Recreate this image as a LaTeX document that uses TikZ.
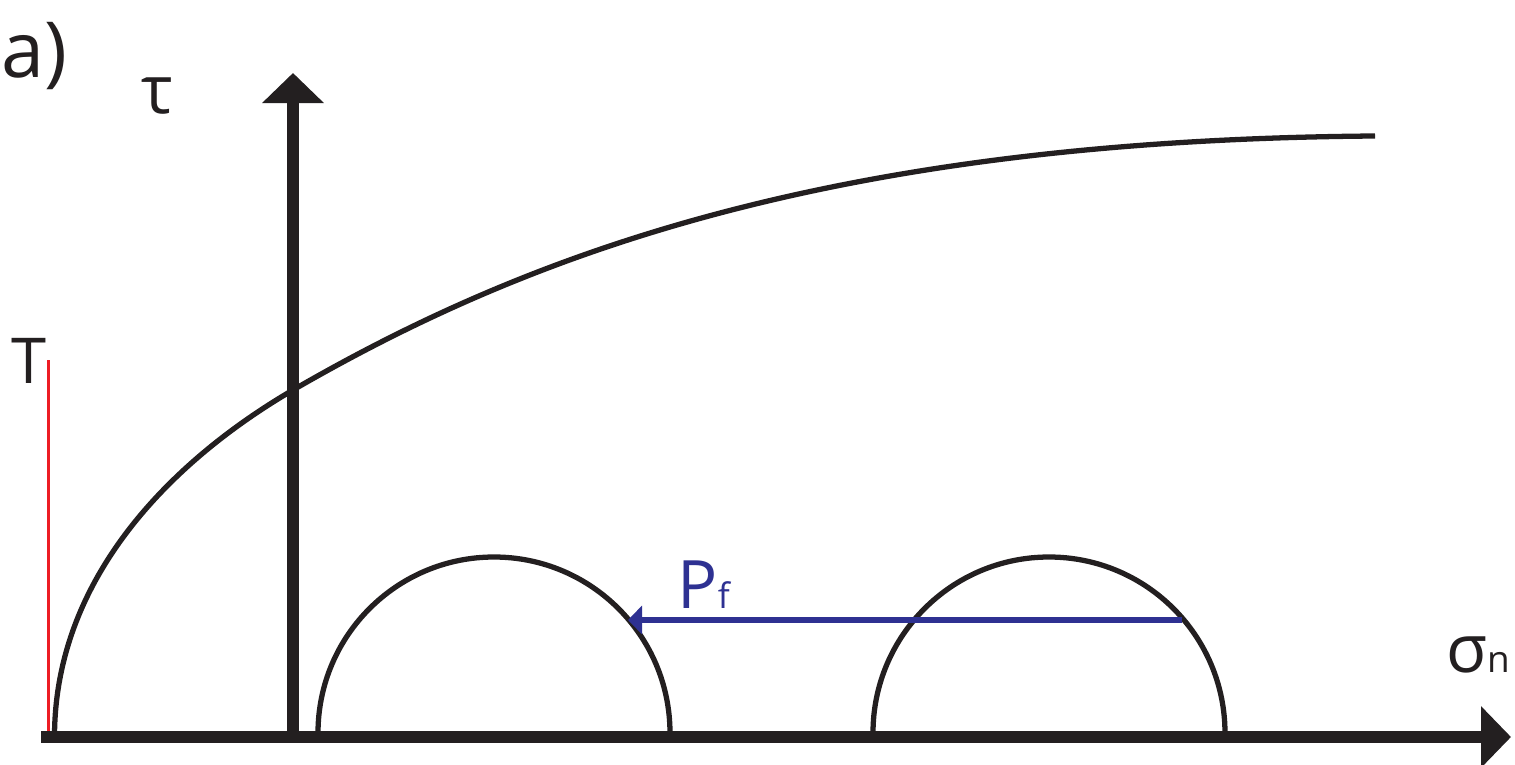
\documentclass[tikz,border=0pt]{standalone}
\usepackage{fontspec}
\setmainfont{Open Sans}
\usepackage{tikz}
\usetikzlibrary{arrows.meta}
\definecolor{ink}{HTML}{231F20}
\definecolor{pfblue}{HTML}{2E3192}
\definecolor{tred}{HTML}{ED1C24}

\begin{document}
\begin{tikzpicture}[
  axis/.style={line width=3.3pt, draw=ink, -{Triangle[length=0.3cm,width=0.6cm]}},
  mohr/.style={line width=1.5pt, draw=ink},
  lbl/.style={inner sep=0pt, anchor=base west, text=ink}]
  \useasboundingbox (0,0) rectangle (15.15,7.64);
  \coordinate (O) at (2.93,0.27);
  \coordinate (xend) at (15.11,0.27);
  \coordinate (yend) at (2.93,6.91);
  \draw[mohr] (0.545,0.27) .. controls (0.545,1.87) and (1.73,3.04) .. (2.93,3.74)
    .. controls (5.23,5.07) and (8.25,6.24) .. (13.75,6.28);
  \draw[mohr] (3.18,0.27) -- (3.18,0.31) arc[start angle=180, end angle=0, radius=1.76] -- (6.70,0.27);
  \draw[mohr] (8.73,0.27) -- (8.73,0.31) arc[start angle=180, end angle=0, radius=1.76] -- (12.25,0.27);
  \draw[tred, line width=1pt] (0.485,0.27) -- (0.485,4.04);
  \coordinate (pstart) at (11.82,1.44);
  \coordinate (pend) at (6.28,1.44);
  \draw[pfblue, line width=1.6pt, -{Triangle[length=0.14cm,width=0.28cm]}] (pstart) -- (pend);
  \draw[axis] (0.41,0.27) -- (xend);
  \draw[axis] (O) -- (yend);
  \node[lbl] (panel) at (0.01,6.87) {\fontsize{22}{22}\selectfont a)};
  \node[lbl] (tau) at (1.41,6.51) {\fontsize{19}{19}\selectfont τ};
  \node[lbl] (tlab) at (0.11,3.81) {\fontsize{18}{18}\selectfont T};
  \node[lbl, text=pfblue] (pf) at (6.77,1.56) {\fontsize{19}{19}\selectfont P\fontsize{10}{10}\selectfont f};
  \node[lbl] (sigma) at (14.46,0.92) {\fontsize{19}{19}\selectfont σ\fontsize{10.5}{10.5}\selectfont n};
\end{tikzpicture}
\end{document}
